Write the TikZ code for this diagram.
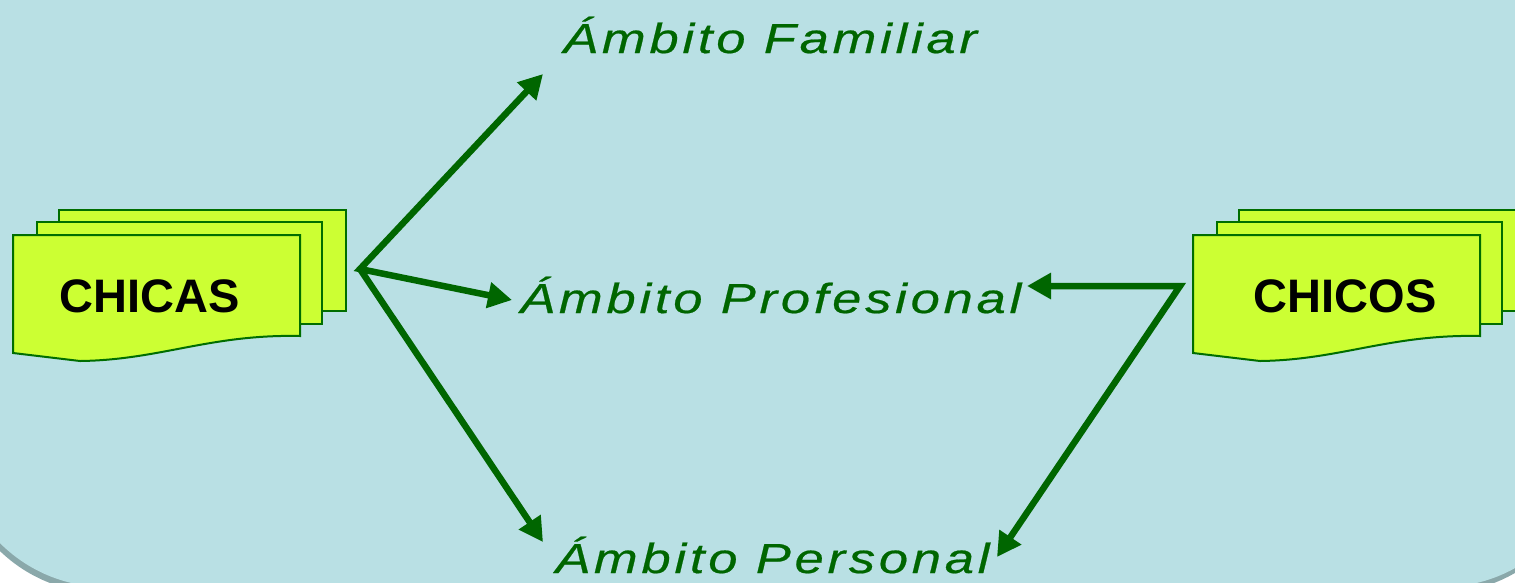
\documentclass[tikz,border=0pt]{standalone}
\usepackage{fontspec}
\setmainfont{Liberation Sans}
\newfontfamily\ambfont[FakeStretch=1.25, LetterSpace=9, FakeBold=0.5]{Liberation Sans}
\usetikzlibrary{arrows.meta}
\definecolor{bgblue}{RGB}{185,224,228}
\definecolor{bgshadow}{RGB}{138,168,170}
\definecolor{docfill}{RGB}{204,255,51}
\definecolor{docline}{RGB}{0,110,0}
\definecolor{dgreen}{RGB}{0,102,0}
\tikzset{
  docshape/.style={fill=docfill, draw=docline, line width=2pt, line join=miter},
  conn/.style={draw=dgreen, line width=6.5pt, line join=miter, miter limit=20},
  tip/.style={-{Triangle[length=24pt,width=25pt]}},
  ambito/.style={text=dgreen, anchor=base west, inner sep=0pt, font=\ambfont\itshape\fontsize{42}{50}\selectfont},
  label/.style={text=black, anchor=base, inner sep=0pt, font=\bfseries\fontsize{47}{56}\selectfont}
}
\begin{document}
\begin{tikzpicture}[x=1pt,y=-1pt]
\useasboundingbox (0,0) rectangle (1515,582);
\fill[white] (0,0) rectangle (1515,582);
\begin{scope}
\clip (0,0) rectangle (1515,582);
% background panel with shadow
\fill[bgshadow, rounded corners=150pt] (-46,-200) rectangle (1590,593);
\fill[bgblue, rounded corners=150pt] (-44,-200) rectangle (1592,587);
% document stacks
\foreach \dx in {0,1180}{
  \begin{scope}[xshift=\dx pt]
    \draw[docshape] (59,210) rectangle (346,311);
    \draw[docshape] (37,222) rectangle (322,324);
    \draw[docshape] (13,235) -- (300,235) -- (300,336)
       .. controls (210,334) and (160,360) .. (80,361) -- (13,353) -- cycle;
  \end{scope}
}
\end{scope}
\node[label] (chicas) at (150,312) {CHICAS};
\node[label] (chicos) at (1345,312) {CHICOS};
\node[ambito] (fam) at (563,53) {Ámbito Familiar};
\node[ambito] (prof) at (520,313) {Ámbito Profesional};
\node[ambito] (pers) at (555,573) {Ámbito Personal};
% connectors
\coordinate (j1) at (360,269);
\coordinate (j2) at (1180,286);
\coordinate (tfam) at (543,74);
\coordinate (tprof) at (512,300);
\coordinate (tpers) at (543,542);
\coordinate (tprof2) at (1027,286);
\coordinate (tpers2) at (997,557);
\draw[conn, {Triangle[length=24pt,width=25pt]}-{Triangle[length=24pt,width=25pt]}] (tfam) -- (j1) -- (tprof);
\draw[conn, tip] (j1) -- (tpers);
\draw[conn, {Triangle[length=24pt,width=25pt]}-{Triangle[length=24pt,width=25pt]}] (tprof2) -- (j2) -- (tpers2);
\end{tikzpicture}
\end{document}
